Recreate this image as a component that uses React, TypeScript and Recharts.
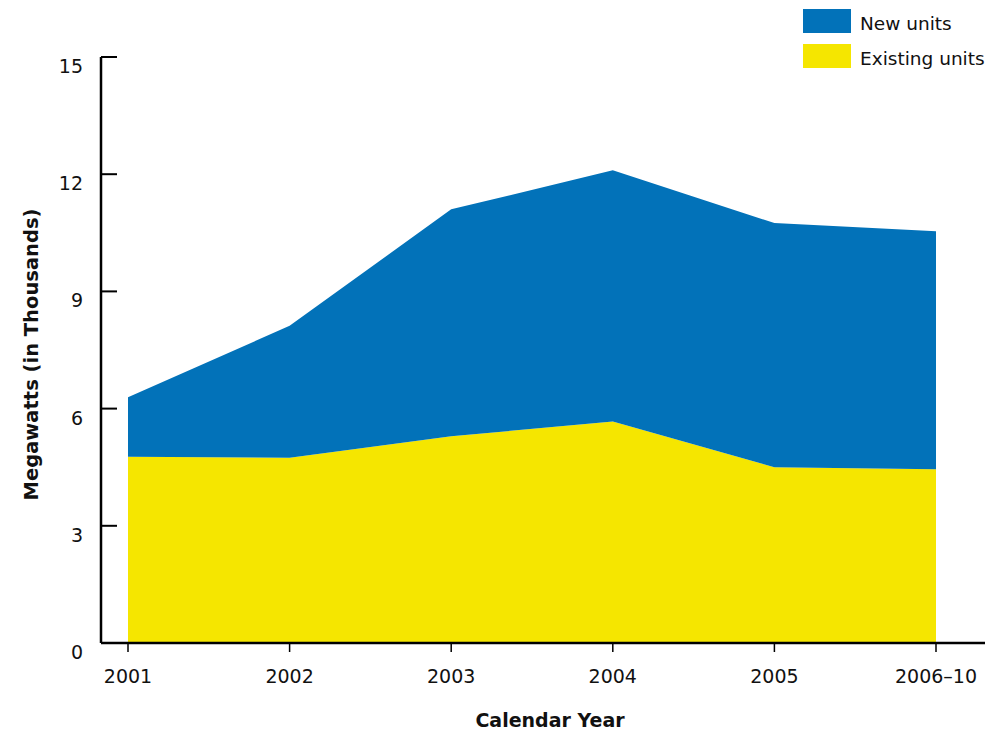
import { AreaChart, Area, XAxis, YAxis } from 'recharts'

const years = ['2001', '2002', '2003', '2004', '2005', '2006–10']
const existingUnits = [4.77, 4.74, 5.29, 5.67, 4.5, 4.45]
const newUnits = [1.52, 3.38, 5.81, 6.43, 6.25, 6.09]
const yTicks = [0, 3, 6, 9, 12, 15]

const BLUE = '#0272b9'
const YELLOW = '#f5e600'
const FONT = '"DejaVu Sans", Verdana, sans-serif'

const data = years.map((year, i) => ({
  year,
  existing: existingUnits[i],
  added: newUnits[i],
}))

const legendItems = [
  { label: 'New units', color: BLUE },
  { label: 'Existing units', color: YELLOW },
]

function YTick(props: any) {
  const { x, y, payload } = props
  return (
    <g>
      <line x1={x} x2={x + 16} y1={y} y2={y} stroke="#000" strokeWidth={2} />
      <text x={x - 18} y={y + 16} textAnchor="end" fontSize={19} fill="#111" fontFamily={FONT}>
        {payload.value}
      </text>
    </g>
  )
}

function XTick(props: any) {
  const { x, y, payload } = props
  return (
    <g>
      <line x1={x} x2={x} y1={y} y2={y + 9} stroke="#000" strokeWidth={1.5} />
      <text x={x} y={y + 39.5} textAnchor="middle" fontSize={19} fill="#111" fontFamily={FONT}>
        {payload.value}
      </text>
    </g>
  )
}

function XTitle(props: any) {
  const { viewBox } = props
  const cx = viewBox.x + viewBox.width / 2 + 7
  return (
    <text x={cx} y={viewBox.y + 84} textAnchor="middle" fontSize={19} fontWeight={700} fill="#111" fontFamily={FONT}>
      Calendar Year
    </text>
  )
}

function YTitle(props: any) {
  const { viewBox } = props
  const cx = viewBox.x + 37.5
  const cy = viewBox.y + viewBox.height / 2 + 4.5
  return (
    <text
      x={cx}
      y={cy}
      transform={`rotate(-90 ${cx} ${cy})`}
      textAnchor="middle"
      fontSize={19.5}
      fontWeight={700}
      fill="#111"
      fontFamily={FONT}
    >
      Megawatts (in Thousands)
    </text>
  )
}

export default function App() {
  return (
    <div style={{ position: 'absolute', left: 0, top: 0, width: 990, height: 732, background: '#fff' }}>
      <AreaChart
        width={990}
        height={732}
        data={data}
        margin={{ top: 57, right: 5, bottom: 0, left: 0 }}
      >
        <XAxis
          dataKey="year"
          height={89}
          padding={{ left: 27, right: 49 }}
          tickSize={0}
          tickMargin={0}
          tickLine={false}
          axisLine={{ stroke: '#000', strokeWidth: 2.5 }}
          tick={<XTick />}
          interval={0}
          label={<XTitle />}
        />
        <YAxis
          width={101}
          domain={[0, 15]}
          ticks={yTicks}
          tickSize={0}
          tickMargin={0}
          tickLine={false}
          axisLine={{ stroke: '#000', strokeWidth: 2.5 }}
          tick={<YTick />}
          label={<YTitle />}
        />
        <Area
          type="linear"
          dataKey="existing"
          stackId="a"
          stroke="none"
          fill={YELLOW}
          fillOpacity={1}
          isAnimationActive={false}
        />
        <Area
          type="linear"
          dataKey="added"
          stackId="a"
          stroke="none"
          fill={BLUE}
          fillOpacity={1}
          isAnimationActive={false}
        />
      </AreaChart>

      {/* legend */}
      <div style={{ position: 'absolute', left: 803, top: 9, fontFamily: FONT }}>
        {legendItems.map(it => (
          <div key={it.label} style={{ display: 'flex', alignItems: 'center', height: 24, marginBottom: 11 }}>
            <div style={{ width: 48, height: 24, background: it.color, marginRight: 9 }} />
            <span style={{ fontSize: 18.5, color: '#111', lineHeight: '24px', position: 'relative', top: 3 }}>
              {it.label}
            </span>
          </div>
        ))}
      </div>
    </div>
  )
}
